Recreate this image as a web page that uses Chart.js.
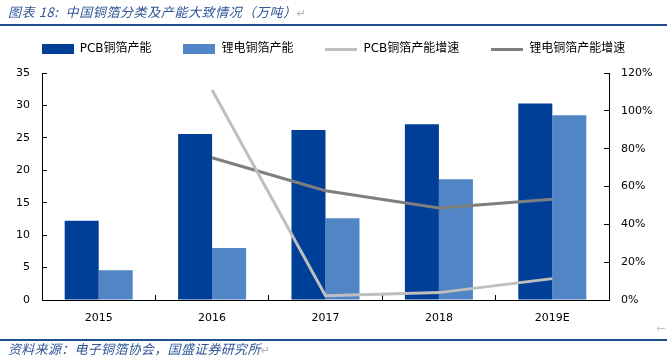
<!DOCTYPE html>
<html>
<head>
<meta charset="utf-8">
<script src="https://cdn.jsdelivr.net/npm/chart.js@4/dist/chart.umd.min.js"></script>
<style>
  html, body { margin: 0; padding: 0; background: #fff; }
  #wrap { position: relative; width: 667px; height: 355px; overflow: hidden; }
  #c { position: absolute; left: 0; top: 0; }
  .title { position: absolute; left: 8px; top: 2px; font: italic 13px "Noto Sans CJK SC", "DejaVu Sans", sans-serif; color: #2F5597; white-space: nowrap; letter-spacing: 0.6px; }
  .src { position: absolute; left: 8px; top: 339px; font: italic 13px "Noto Sans CJK SC", "DejaVu Sans", sans-serif; color: #2F5597; white-space: nowrap; letter-spacing: 0.3px; }
  .mark { color: #b0b0b0; font-style: normal; font-family: "DejaVu Sans", sans-serif; font-size: 11px; letter-spacing: 0; }
  .rule { position: absolute; left: 0; width: 667px; height: 2px; background: #1F4E8C; }
  .arrow { position: absolute; left: 656px; top: 322px; font: 11px "DejaVu Sans", sans-serif; color: #c0c0c0; }
</style>
</head>
<body>
<div id="wrap">
  <canvas id="c" width="667" height="355"></canvas>
  <div class="title">图表 18:&nbsp; 中国铜箔分类及产能大致情况（万吨）<span class="mark">↵</span></div>
  <div class="rule" style="top:24px"></div>
  <div class="arrow">←</div>
  <div class="rule" style="top:339px;height:1.5px"></div>
  <div class="src">资料来源：电子铜箔协会，国盛证券研究所<span class="mark">↵</span></div>
</div>
<script>
const categories = ['2015', '2016', '2017', '2018', '2019E'];
const seriesNames = ['PCB铜箔产能', '锂电铜箔产能', 'PCB铜箔产能增速', '锂电铜箔产能增速'];
const pcbCapacity = [12.2, 25.6, 26.2, 27.1, 30.3];
const lithiumCapacity = [4.6, 8.0, 12.6, 18.6, 28.5];
const pcbGrowth = [null, 111.0, 2.3, 3.9, 11.3];
const lithiumGrowth = [null, 75.2, 57.8, 48.6, 53.2];
const leftTicks = [0, 5, 10, 15, 20, 25, 30, 35];
const rightTicks = [0, 20, 40, 60, 80, 100, 120];

const COLORS = { pcb: '#003F97', li: '#5185C5', pcbG: '#BFBFBF', liG: '#7F7F7F' };

function swatch(color, w, h) {
  const c = document.createElement('canvas');
  c.width = w; c.height = h;
  const g = c.getContext('2d');
  g.fillStyle = color; g.fillRect(0, 0, w, h);
  return c;
}

Chart.defaults.font.family = '"DejaVu Sans", "Noto Sans CJK SC", sans-serif';
Chart.defaults.font.size = 11;
Chart.defaults.color = '#000';

const legendHeightPlugin = {
  id: 'legendHeight',
  afterInit(chart) {
    const lg = chart.legend;
    if (!lg) return;
    const orig = lg.fit.bind(lg);
    lg.fit = function () { orig(); this.height = 62; };
  }
};

new Chart(document.getElementById('c'), {
  type: 'bar',
  data: {
    labels: categories,
    datasets: [
      { label: seriesNames[0], data: pcbCapacity, backgroundColor: COLORS.pcb, yAxisID: 'y', order: 2,
        categoryPercentage: 0.6, barPercentage: 1.0, pointStyle: swatch(COLORS.pcb, 32, 10) },
      { label: seriesNames[1], data: lithiumCapacity, backgroundColor: COLORS.li, yAxisID: 'y', order: 2,
        categoryPercentage: 0.6, barPercentage: 1.0, pointStyle: swatch(COLORS.li, 32, 10) },
      { type: 'line', label: seriesNames[2], data: pcbGrowth, borderColor: COLORS.pcbG, backgroundColor: COLORS.pcbG,
        borderWidth: 3, pointRadius: 0, tension: 0, yAxisID: 'y1', order: 1, pointStyle: swatch(COLORS.pcbG, 32, 3) },
      { type: 'line', label: seriesNames[3], data: lithiumGrowth, borderColor: COLORS.liG, backgroundColor: COLORS.liG,
        borderWidth: 3, pointRadius: 0, tension: 0, yAxisID: 'y1', order: 1, pointStyle: swatch(COLORS.liG, 32, 3) }
    ]
  },
  options: {
    responsive: false,
    animation: false,
    devicePixelRatio: 1,
    layout: { padding: { top: 11, left: 0, right: 0, bottom: 25 } },
    plugins: {
      tooltip: { enabled: false },
      legend: {
        position: 'top',
        labels: { usePointStyle: true, pointStyleWidth: 32, boxHeight: 10, padding: 32, color: '#000',
                  font: { size: 12 }, sort: (a, b) => a.datasetIndex - b.datasetIndex }
      }
    },
    scales: {
      x: {
        grid: { display: true, drawOnChartArea: false, drawTicks: true, tickLength: -5, color: '#000', offset: true },
        border: { display: true, color: '#000', width: 1 },
        ticks: { padding: 17, color: '#000' },
        afterFit(s) { s.height = 30; }
      },
      y: {
        position: 'left', min: 0, max: 35,
        afterBuildTicks(s) { s.ticks = leftTicks.map(v => ({ value: v })); },
        grid: { display: true, drawOnChartArea: false, drawTicks: true, tickLength: -5, color: '#000' },
        border: { display: true, color: '#000', width: 1 },
        ticks: { padding: 17, color: '#000' },
        afterFit(s) { s.width = 42; }
      },
      y1: {
        position: 'right', min: 0, max: 120,
        afterBuildTicks(s) { s.ticks = rightTicks.map(v => ({ value: v })); },
        grid: { display: true, drawOnChartArea: false, drawTicks: true, tickLength: -5, color: '#000' },
        border: { display: true, color: '#000', width: 1 },
        ticks: { padding: 17, color: '#000', callback: v => v + '%' },
        afterFit(s) { s.width = 58; }
      }
    }
  },
  plugins: [legendHeightPlugin]
});
</script>
</body>
</html>
